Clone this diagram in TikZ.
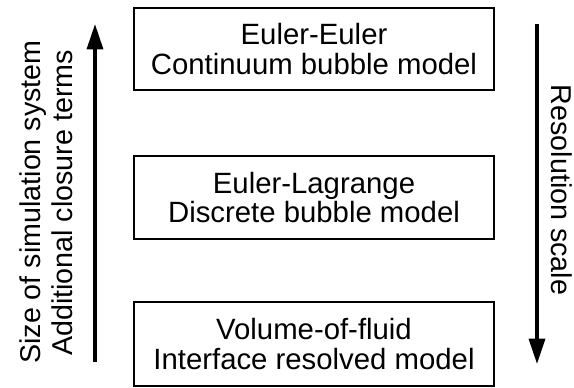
\documentclass[tikz,border=0pt]{standalone}
\usepackage{fontspec}
\setmainfont{Liberation Sans}
\usetikzlibrary{arrows.meta}
\begin{document}
\begin{tikzpicture}[x=0.75pt,y=-0.75pt,
  modelbox/.style={draw=black,line width=1.6pt,minimum width=270pt,minimum height=62pt,inner sep=0pt,align=center,font=\fontsize{22}{22}\selectfont},
  sidelabel/.style={inner sep=0pt,anchor=base,font=\fontsize{21.5}{22}\selectfont},
  bigarrow/.style={line width=2.5pt,-{Triangle[width=12pt,length=19pt]}}]
\useasboundingbox (0,0) rectangle (574,387);
\node[modelbox] (ee) at (314,49) {Euler-Euler\\Continuum bubble model};
\node[modelbox] (el) at (314,197.5) {Euler-Lagrange\\Discrete bubble model};
\node[modelbox,minimum height=63pt] (vof) at (314,344) {Volume-of-fluid\\Interface resolved model};
\coordinate (lb) at (95,362);
\coordinate (lt) at (95,24);
\coordinate (rt) at (537,24);
\coordinate (rb) at (537,364);
\draw[bigarrow] (lb) -- (lt);
\draw[bigarrow] (rt) -- (rb);
\node[sidelabel,rotate=90] (left1) at (40,202) {Size of simulation system};
\node[sidelabel,rotate=90] (left2) at (72,203) {Additional closure terms};
\node[sidelabel,rotate=-90] (right) at (551,190) {Resolution scale};
\end{tikzpicture}
\end{document}
